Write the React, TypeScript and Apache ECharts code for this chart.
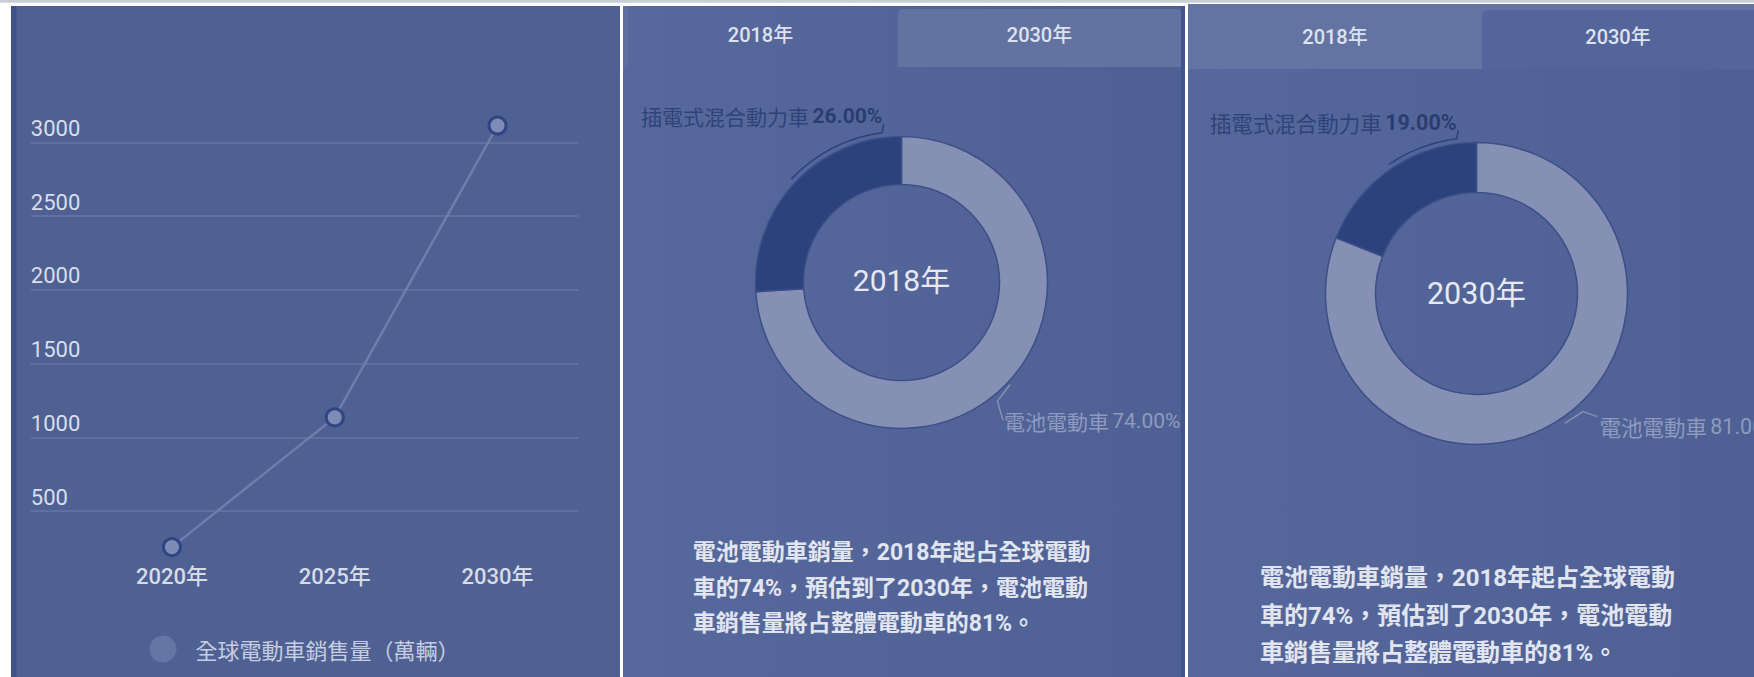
import React, { useEffect, useRef } from "react";
import * as echarts from "echarts";

// ---------- data ----------
const salesYears = ["2020年", "2025年", "2030年"];
const salesValues = [255, 1135, 3115];
const salesSeriesName = "全球電動車銷售量（萬輛）";
const yMin = 0;
const yMax = 3500;
const yStep = 500;

const shareNames = ["電池電動車", "插電式混合動力車"];
const share2018 = [74, 26];
const share2030 = [81, 19];
const pieYears = ["2018年", "2030年"];
const tabLabels = ["2018年", "2030年"];
const noteLines = [
  "電池電動車銷量，2018年起占全球電動",
  "車的74%，預估到了2030年，電池電動",
  "車銷售量將占整體電動車的81%。",
];

// ---------- styles ----------
const W = 1754;
const H = 677;
const CJK = "'Noto Sans CJK TC', 'Noto Sans', sans-serif";
const NUM = "Roboto, 'Noto Sans CJK TC', sans-serif";
const PANEL = "#4f6193";
const SLICE_COLORS = ["#8590b4", "#2c427c"];

type PieCfg = {
  center: [number, number];
  radius: [number, number];
  font: number;
  darkR: number;
  darkEnd: number;
  hook: [number, number];
  lightR: number;
  d1: [number, number];
  d2: [number, number];
  textOff: [number, number];
};

const pie2018: PieCfg = {
  center: [901.5, 282.5],
  radius: [98, 146],
  font: 21,
  darkR: 151,
  darkEnd: 97.4,
  hook: [1.8, -8.7],
  lightR: 149,
  d1: [-12.7, 16.6],
  d2: [5.5, 19],
  textOff: [1, 1],
};
const pie2030: PieCfg = {
  center: [1476.5, 293.5],
  radius: [101, 151],
  font: 21.5,
  darkR: 156,
  darkEnd: 97.3,
  hook: [1.6, -8.7],
  lightR: 157,
  d1: [18.2, -11.7],
  d2: [14.5, 5],
  textOff: [2, 10],
};

function midAngles(vals: number[]) {
  const total = vals.reduce((a, b) => a + b, 0);
  let cum = 0;
  return vals.map((v) => {
    const start = 90 - (360 * cum) / total;
    cum += v;
    return start - (180 * v) / total;
  });
}

function makePie(vals: number[], cfg: PieCfg) {
  const total = vals.reduce((a, b) => a + b, 0);
  const mids = midAngles(vals);
  const [cx, cy] = cfg.center;
  return {
    type: "pie",
    center: cfg.center,
    radius: cfg.radius,
    startAngle: 90,
    clockwise: true,
    avoidLabelOverlap: false,
    silent: true,
    z: 3,
    itemStyle: { borderColor: "#3c4f88", borderWidth: 1.5 },
    label: {
      show: true,
      position: "outside",
      formatter: (p: any) =>
        `{n|${p.name}} {p|${((p.value / total) * 100).toFixed(2)}%}`,
    },
    labelLine: { show: true, length: 10, length2: 10, lineStyle: { width: 1.5 } },
    data: shareNames.map((n, i) => ({
      name: n,
      value: vals[i],
      itemStyle: { color: SLICE_COLORS[i] },
      label: {
        rich:
          i === 1
            ? {
                n: { color: "#2f4378", fontSize: cfg.font, fontFamily: CJK },
                p: { color: "#2a3d70", fontSize: cfg.font, fontFamily: NUM, fontWeight: "bold" },
              }
            : {
                n: { color: "#8e9ac0", fontSize: cfg.font, fontFamily: CJK },
                p: { color: "#8e9ac0", fontSize: cfg.font, fontFamily: NUM },
              },
      },
      labelLine: { lineStyle: { color: i === 1 ? "#2c427c" : "#8591b5", width: 1.5 } },
    })),
    labelLayout: (params: any) => {
      const i = params.dataIndex;
      let midDeg = mids[i];
      if (i === 1) {
        while (midDeg - cfg.darkEnd > 180) midDeg -= 360;
        while (cfg.darkEnd - midDeg > 180) midDeg += 360;
        const a0 = (midDeg * Math.PI) / 180;
        const a1 = (cfg.darkEnd * Math.PI) / 180;
        const pts: number[][] = [];
        const n = 30;
        for (let k = 0; k <= n; k++) {
          const a = a0 + ((a1 - a0) * k) / n;
          pts.push([cx + cfg.darkR * Math.cos(a), cy - cfg.darkR * Math.sin(a)]);
        }
        const last = pts[n];
        const hk = [last[0] + cfg.hook[0], last[1] + cfg.hook[1]];
        pts.push(hk);
        return {
          x: hk[0] - 1.6,
          y: hk[1] - 8,
          align: "right",
          verticalAlign: "middle",
          labelLinePoints: pts,
        };
      }
      const a0 = (midDeg * Math.PI) / 180;
      const p0 = [cx + cfg.lightR * Math.cos(a0), cy - cfg.lightR * Math.sin(a0)];
      const p1 = [p0[0] + cfg.d1[0], p0[1] + cfg.d1[1]];
      const p2 = [p1[0] + cfg.d2[0], p1[1] + cfg.d2[1]];
      return {
        x: p2[0] + cfg.textOff[0],
        y: p2[1] + cfg.textOff[1],
        align: "left",
        verticalAlign: "middle",
        labelLinePoints: [p0, p1, p2],
      };
    },
  };
}

function rect(x: number, y: number, w: number, h: number, fill: any, r: any = 0, z = -5) {
  return { type: "rect", z, silent: true, shape: { x, y, width: w, height: h, r }, style: { fill } };
}

function text(x: number, y: number, t: string, style: any, z = 10) {
  return { type: "text", z, silent: true, x, y, style: { text: t, ...style } };
}

function tabStyle() {
  return {
    fontSize: 20,
    fontFamily: NUM,
    fontWeight: 500,
    fill: "#dde2ee",
    align: "center",
    verticalAlign: "middle",
  };
}
function centerStyle(fs: number) {
  return {
    fontSize: fs,
    fontFamily: NUM,
    fill: "#e6e9f2",
    align: "center",
    verticalAlign: "middle",
  };
}
function noteStyle(fs: number, lh: number) {
  return {
    fontSize: fs,
    fontFamily: NUM,
    fontWeight: "bold",
    lineHeight: lh,
    fill: "#e1e5f0",
    align: "left",
    verticalAlign: "top",
  };
}

export default function App() {
  const ref = useRef<HTMLDivElement>(null);
  useEffect(() => {
    if (!ref.current) return;
    const chart = echarts.init(ref.current, undefined, { renderer: "svg", width: W, height: H });
    const grad = (c1: string, c2: string) =>
      new echarts.graphic.LinearGradient(0, 0, 1, 0, [
        { offset: 0, color: c1 },
        { offset: 1, color: c2 },
      ]);

    const p2 = { x: 623, w: 558, tabSplit: 898 };
    const p3 = { x: 1188, w: 566, tabSplit: 1482 };
    const gridTop = 68.8;
    const gridBottom = H - 584.7;

    const graphics: any[] = [
      rect(0, 0, W, 2.7, "#c8cfd7"),
      // panel 1
      rect(11, 6, 609, H - 6, PANEL),
      rect(11, 6, 5.5, H - 6, "#3f5189", 0, -4),
      // panel 2
      rect(p2.x, 6, p2.w, H - 6, grad("#57699c", "#4f6194")),
      rect(p2.x + p2.w, 6, 4, H - 6, "#41548b"),
      rect(p2.x, 6, 5, 61, "#5d6fa0", 0, -4),
      rect(p2.tabSplit, 9, p2.x + p2.w - p2.tabSplit, 58, "#6272a1", [5, 3, 0, 0], -4),
      // panel 3
      rect(p3.x, 4, p3.w, H - 4, grad("#56689b", "#4f6194")),
      rect(p3.x, 4, p3.w, 65, "#6474a2", 0, -4),
      rect(p3.tabSplit, 10, p3.x + p3.w - p3.tabSplit, 59, "#53659a", [6, 0, 0, 0], -3),
      // tab labels
      text((p2.x + p2.tabSplit) / 2, 35, tabLabels[0], tabStyle()),
      text((p2.tabSplit + p2.x + p2.w) / 2, 35, tabLabels[1], tabStyle()),
      text((p3.x + p3.tabSplit) / 2, 36.7, tabLabels[0], tabStyle()),
      text((p3.tabSplit + p3.x + p3.w) / 2, 36.7, tabLabels[1], tabStyle()),
      // donut centre titles
      text(pie2018.center[0], pie2018.center[1] - 2, pieYears[0], centerStyle(30)),
      text(pie2030.center[0], pie2030.center[1], pieYears[1], centerStyle(30.5)),
      // notes
      text(692.7, 535, noteLines.join("\n"), noteStyle(23, 35.5)),
      text(1260, 559.5, noteLines.join("\n"), noteStyle(24, 37.5)),
    ];

    const option: any = {
      animation: false,
      backgroundColor: "#ffffff",
      graphic: { elements: graphics },
      grid: [
        { left: 30.8, right: W - 578.5, top: gridTop, bottom: gridBottom, containLabel: false },
        { left: 90.6, right: W - 578.9, top: gridTop, bottom: gridBottom, containLabel: false },
      ],
      legend: {
        left: 149.5,
        top: 635.5,
        padding: 0,
        icon: "circle",
        itemWidth: 27,
        itemHeight: 27,
        selectedMode: false,
        data: [{ name: salesSeriesName, itemStyle: { color: "#6575a5", borderWidth: 0 } }],
        textStyle: { color: "#c6cde0", fontSize: 22, fontFamily: CJK, padding: [0, 0, 0, 14] },
      },
      xAxis: [
        { gridIndex: 0, type: "value", show: false },
        {
          gridIndex: 1,
          type: "category",
          data: salesYears,
          boundaryGap: true,
          offset: -27,
          axisLine: { show: false },
          axisTick: { show: false },
          splitLine: { show: false },
          axisLabel: {
            color: "#d6dbe8",
            fontSize: 22,
            fontFamily: NUM,
            fontWeight: 500,
            margin: 8,
          },
        },
      ],
      yAxis: [
        {
          gridIndex: 0,
          type: "value",
          min: yMin,
          max: yMax,
          interval: yStep,
          axisLine: { show: false },
          axisTick: { show: false },
          axisLabel: {
            inside: true,
            margin: 0,
            verticalAlign: "bottom",
            showMinLabel: false,
            showMaxLabel: false,
            color: "#d9deea",
            fontSize: 22,
            fontFamily: NUM,
            padding: [0, 0, 3, 0],
            formatter: (v: number) => String(v),
          },
          splitLine: {
            show: true,
            showMinLine: false,
            showMaxLine: false,
            lineStyle: { color: "#6676a3", width: 1.5 },
          },
        },
        { gridIndex: 1, type: "value", min: yMin, max: yMax, show: false },
      ],
      series: [
        {
          type: "line",
          name: salesSeriesName,
          xAxisIndex: 1,
          yAxisIndex: 1,
          data: salesValues,
          symbol: "circle",
          symbolSize: 17,
          z: 3,
          lineStyle: { color: "#6e7eab", width: 2.5 },
          itemStyle: { color: "#7e8bb5", borderColor: "#2f4584", borderWidth: 3 },
        },
        makePie(share2018, pie2018),
        makePie(share2030, pie2030),
      ],
    };
    chart.setOption(option);
    return () => chart.dispose();
  }, []);

  return (
    <div
      lang="zh-Hant-TW"
      style={{ position: "fixed", left: 0, top: 0, width: W, height: H, background: "#fff" }}
    >
      <div ref={ref} lang="zh-Hant-TW" style={{ width: W, height: H }} />
    </div>
  );
}
